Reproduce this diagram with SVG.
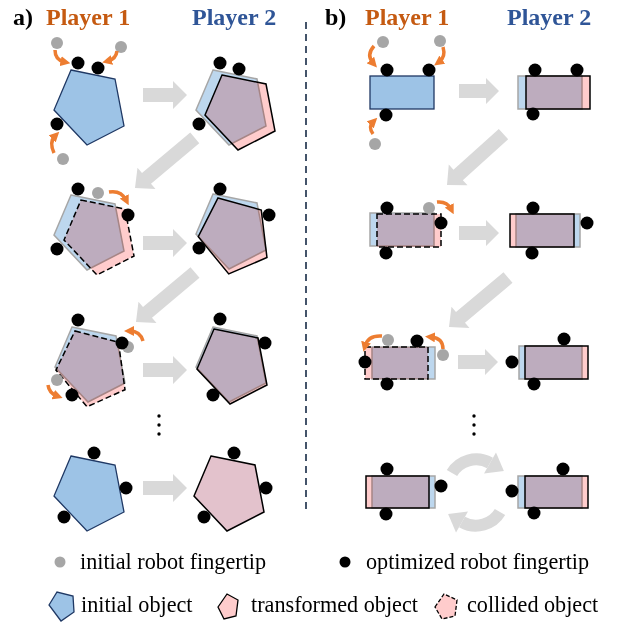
<svg xmlns="http://www.w3.org/2000/svg" width="619" height="623" viewBox="0 0 619 623">
<defs>
<style>
.ttl{font-family:"Liberation Serif","Times New Roman",serif;font-weight:bold;font-size:24px}
.lab{font-family:"Liberation Serif","Times New Roman",serif;font-size:22.2px;fill:#000}
.p1{fill:#C55A11}.p2{fill:#2F5597}
.ini{fill:#9DC3E6;stroke:#1F3864;stroke-width:1.3}
.bl{fill:#BDD7EE;stroke:#A6A6A6;stroke-width:1.5}
.tr{fill:#FFCCCC;stroke:#000;stroke-width:1.5;mix-blend-mode:multiply}
.co{fill:#FFCCCC;stroke:#000;stroke-width:1.5;stroke-dasharray:6 3;mix-blend-mode:multiply}
.trs{fill:#E3C2CC;stroke:#000;stroke-width:1.5}
.ft{fill:#000}
.gt{fill:#A6A6A6}
.ga{fill:#D9D9D9}
.oa{fill:none;stroke:#ED7D31;stroke-width:3.5;marker-end:url(#oh)}
</style>
<marker id="oh" viewBox="0 0 10 10" refX="4" refY="5" markerWidth="10" markerHeight="10" markerUnits="userSpaceOnUse" orient="auto"><path d="M0,0 L10,5 L0,10 z" fill="#ED7D31"/></marker>
</defs>
<rect width="619" height="623" fill="#fff"/>

<g id="titles">
<text class="ttl" x="13" y="25">a)</text>
<text class="ttl p1" x="46" y="25">Player 1</text>
<text class="ttl p2" x="192" y="25">Player 2</text>
<text class="ttl" x="325" y="25">b)</text>
<text class="ttl p1" x="365" y="25">Player 1</text>
<text class="ttl p2" x="507" y="25">Player 2</text>
</g>

<line id="separator" x1="306" y1="22" x2="306" y2="510" stroke="#44546A" stroke-width="2" stroke-dasharray="7 5"/>

<g id="connectors">
<path class="ga" transform="translate(187,95)" d="M-44,-7 H-14 V-14 L0,0 L-14,14 V7 H-44 Z"/>
<path class="ga" transform="translate(187,243)" d="M-44,-7 H-14 V-14 L0,0 L-14,14 V7 H-44 Z"/>
<path class="ga" transform="translate(187,370)" d="M-44,-7 H-14 V-14 L0,0 L-14,14 V7 H-44 Z"/>
<path class="ga" transform="translate(187,488)" d="M-44,-7 H-14 V-14 L0,0 L-14,14 V7 H-44 Z"/>
<path class="ga" transform="translate(135,188) rotate(140)" d="M-78,-7 H-15 V-14 L0,0 L-15,14 V7 H-78 Z"/>
<path class="ga" transform="translate(136,322) rotate(140)" d="M-77,-7 H-15 V-14 L0,0 L-15,14 V7 H-77 Z"/>
<path class="ga" transform="translate(499,91)" d="M-40,-7 H-13 V-13 L0,0 L-13,13 V7 H-40 Z"/>
<path class="ga" transform="translate(499,233)" d="M-40,-7 H-13 V-13 L0,0 L-13,13 V7 H-40 Z"/>
<path class="ga" transform="translate(498,362)" d="M-40,-7 H-13 V-13 L0,0 L-13,13 V7 H-40 Z"/>
<path class="ga" transform="translate(447,185) rotate(138)" d="M-76,-7 H-15 V-14 L0,0 L-15,14 V7 H-76 Z"/>
<path class="ga" transform="translate(449,327) rotate(140)" d="M-77,-7 H-15 V-14 L0,0 L-15,14 V7 H-77 Z"/>
<g id="cycle">
<path d="M452,473 C459,461 476,455 490,463" fill="none" stroke="#D9D9D9" stroke-width="12"/>
<polygon class="ga" points="503.9,470.9 484,473.4 496,452.6"/>
<g transform="rotate(180,476,492.5)">
<path d="M452,473 C459,461 476,455 490,463" fill="none" stroke="#D9D9D9" stroke-width="12"/>
<polygon class="ga" points="503.9,470.9 484,473.4 496,452.6"/>
</g>
</g>
</g>

<g id="a-r1-p1">
<polygon class="ini" transform="translate(71,70)" points="0,0 44,9 53,56 16,75 -17,40"/>
<circle class="gt" cx="57" cy="43" r="6"/><circle class="gt" cx="121" cy="47" r="6"/><circle class="gt" cx="63" cy="159" r="6"/>
<circle class="ft" cx="78" cy="63" r="6.5"/><circle class="ft" cx="98" cy="68" r="6.5"/><circle class="ft" cx="57" cy="124" r="6.5"/>
</g>
<g id="a-r1-p2">
<polygon class="bl" transform="translate(213,70)" points="0,0 44,9 53,56 16,75 -17,40"/>
<polygon class="tr" transform="translate(222,75)" points="0,0 44,9 53,56 16,75 -17,40"/>
<circle class="ft" cx="220" cy="63" r="6.5"/><circle class="ft" cx="239" cy="69" r="6.5"/><circle class="ft" cx="199" cy="124" r="6.5"/>
</g>
<g id="a-r2-p1">
<polygon class="bl" transform="translate(71,195)" points="0,0 44,9 53,56 16,75 -17,40"/>
<polygon class="co" transform="translate(81,200)" points="0,0 44,9 53,56 16,75 -17,40"/>
<circle class="gt" cx="98" cy="193" r="6"/>
<circle class="ft" cx="78" cy="189" r="6.5"/><circle class="ft" cx="128" cy="215" r="6.5"/><circle class="ft" cx="57" cy="249" r="6.5"/>
</g>
<g id="a-r2-p2">
<polygon class="bl" transform="translate(213,194)" points="0,0 44,9 53,56 16,75 -17,40"/>
<polygon class="tr" transform="translate(218,198) rotate(4)" points="0,0 44,9 53,56 16,75 -17,40"/>
<circle class="ft" cx="220" cy="189" r="6.5"/><circle class="ft" cx="269" cy="215" r="6.5"/><circle class="ft" cx="199" cy="248" r="6.5"/>
</g>
<g id="a-r3-p1">
<polygon class="bl" transform="translate(72,327)" points="0,0 44,9 53,56 16,75 -17,40"/>
<polygon class="co" transform="translate(75,331) rotate(3)" points="0,0 44,9 53,56 16,75 -17,40"/>
<circle class="gt" cx="128" cy="347" r="6"/><circle class="gt" cx="57" cy="380" r="6"/>
<circle class="ft" cx="78" cy="320" r="6.5"/><circle class="ft" cx="122" cy="343" r="6.5"/><circle class="ft" cx="72" cy="395" r="6.5"/>
</g>
<g id="a-r3-p2">
<polygon class="bl" transform="translate(213,327)" points="0,0 44,9 53,56 16,75 -17,40"/>
<polygon class="tr" transform="translate(214,329)" points="0,0 44,9 53,56 16,75 -17,40"/>
<circle class="ft" cx="220" cy="319" r="6.5"/><circle class="ft" cx="265" cy="343" r="6.5"/><circle class="ft" cx="213" cy="395" r="6.5"/>
</g>
<g id="a-dots">
<circle cx="159" cy="416" r="1.7"/><circle cx="159" cy="425" r="1.7"/><circle cx="159" cy="434" r="1.7"/>
</g>
<g id="a-r4-p1">
<polygon class="ini" transform="translate(71,456)" points="0,0 44,9 53,56 16,75 -17,40"/>
<circle class="ft" cx="94" cy="453" r="6.5"/><circle class="ft" cx="126" cy="488" r="6.5"/><circle class="ft" cx="64" cy="517" r="6.5"/>
</g>
<g id="a-r4-p2">
<polygon class="trs" transform="translate(211,456)" points="0,0 44,9 53,56 16,75 -17,40"/>
<circle class="ft" cx="234" cy="453" r="6.5"/><circle class="ft" cx="266" cy="488" r="6.5"/><circle class="ft" cx="204" cy="517" r="6.5"/>
</g>

<g id="b-r1-p1">
<rect class="ini" x="370" y="76" width="64" height="33"/>
<circle class="gt" cx="383" cy="42" r="6"/><circle class="gt" cx="440" cy="41" r="6"/><circle class="gt" cx="375" cy="144" r="6"/>
<circle class="ft" cx="387" cy="70" r="6.5"/><circle class="ft" cx="429" cy="70" r="6.5"/><circle class="ft" cx="386" cy="115" r="6.5"/>
</g>
<g id="b-r1-p2">
<rect class="bl" x="518" y="76" width="64" height="33"/>
<rect class="tr" x="526" y="76" width="64" height="33"/>
<circle class="ft" cx="535" cy="70" r="6.5"/><circle class="ft" cx="577" cy="70" r="6.5"/><circle class="ft" cx="533" cy="114" r="6.5"/>
</g>
<g id="b-r2-p1">
<rect class="bl" x="370" y="213" width="64" height="33"/>
<rect class="co" x="377" y="214" width="64" height="33"/>
<circle class="gt" cx="429" cy="208" r="6"/>
<circle class="ft" cx="387" cy="208" r="6.5"/><circle class="ft" cx="441" cy="223" r="6.5"/><circle class="ft" cx="386" cy="253" r="6.5"/>
</g>
<g id="b-r2-p2">
<rect class="bl" x="516" y="214" width="64" height="33"/>
<rect class="tr" x="510" y="214" width="64" height="33"/>
<circle class="ft" cx="533" cy="208" r="6.5"/><circle class="ft" cx="587" cy="223" r="6.5"/><circle class="ft" cx="532" cy="253" r="6.5"/>
</g>
<g id="b-r3-p1">
<rect class="bl" x="372" y="347" width="63" height="32"/>
<rect class="co" x="365" y="347" width="63" height="32"/>
<circle class="gt" cx="388" cy="340" r="6"/><circle class="gt" cx="443" cy="355" r="6"/>
<circle class="ft" cx="417" cy="341" r="6.5"/><circle class="ft" cx="365" cy="362" r="6.5"/><circle class="ft" cx="387" cy="384" r="6.5"/>
</g>
<g id="b-r3-p2">
<rect class="bl" x="519" y="346" width="63" height="33"/>
<rect class="tr" x="525" y="346" width="63" height="33"/>
<circle class="ft" cx="564" cy="339" r="6.5"/><circle class="ft" cx="512" cy="362" r="6.5"/><circle class="ft" cx="534" cy="384" r="6.5"/>
</g>
<g id="b-dots">
<circle cx="474" cy="416" r="1.7"/><circle cx="474" cy="425" r="1.7"/><circle cx="474" cy="434" r="1.7"/>
</g>
<g id="b-r4-p1">
<rect class="bl" x="372" y="476" width="63" height="32"/>
<rect class="tr" x="366" y="476" width="63" height="32"/>
<circle class="ft" cx="387" cy="469" r="6.5"/><circle class="ft" cx="441" cy="486" r="6.5"/><circle class="ft" cx="386" cy="514" r="6.5"/>
</g>
<g id="b-r4-p2">
<rect class="bl" x="518" y="476" width="64" height="32"/>
<rect class="tr" x="525" y="476" width="63" height="32"/>
<circle class="ft" cx="563" cy="469" r="6.5"/><circle class="ft" cx="512" cy="491" r="6.5"/><circle class="ft" cx="534" cy="513" r="6.5"/>
</g>

<g id="finger-moves">
<path class="oa" d="M55,50 Q55,60 64.5,62"/>
<path class="oa" d="M117,51 Q116,59 108,61"/>
<path class="oa" d="M54,153 Q49,142 55,136"/>
<path class="oa" d="M109,192 Q121,190 126,200"/>
<path class="oa" d="M143,341 Q140,331 130,331"/>
<path class="oa" d="M48,385 Q49,393 57,396"/>
<path class="oa" d="M374,46 Q366,55 373,63"/>
<path class="oa" d="M443,47 Q446,57 439,62"/>
<path class="oa" d="M373,134 Q368,127 373,122"/>
<path class="oa" d="M437,202 Q447,201 451,209"/>
<path class="oa" d="M382,336 Q368,335 365,346"/>
<path class="oa" d="M443,349 Q443,338 431,337"/>
</g>

<g id="legend">
<circle class="gt" cx="60" cy="562" r="5.5"/>
<text class="lab" x="80" y="569">initial robot fingertip</text>
<circle class="ft" cx="345" cy="562" r="5.5"/>
<text class="lab" x="366" y="569">optimized robot fingertip</text>
<polygon class="ini" points="49,605 57,592 73,596 74,612 61,621"/>
<text class="lab" x="81" y="612">initial object</text>
<polygon fill="#FFCCCC" stroke="#000" stroke-width="1.3" points="218,607 227,594 238,600 236,616 224,619"/>
<text class="lab" x="251" y="612">transformed object</text>
<polygon fill="#FFCCCC" stroke="#000" stroke-width="1.3" stroke-dasharray="4 2" points="435,607 444,594 457,600 455,616 442,619"/>
<text class="lab" x="467" y="612">collided object</text>
</g>
</svg>
